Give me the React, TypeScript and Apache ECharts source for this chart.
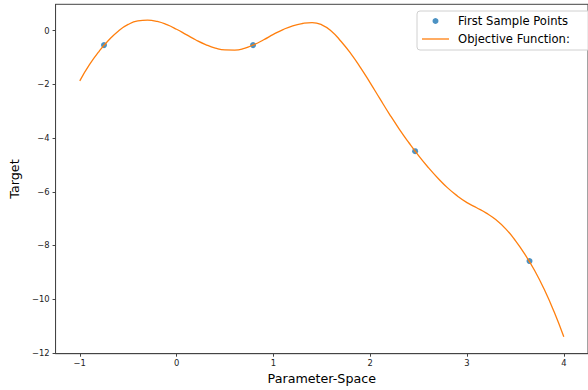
import React, { useEffect, useRef } from "react";
import * as echarts from "echarts";

const curveX = [-1.0, -0.9, -0.8, -0.7, -0.6, -0.5, -0.4, -0.3, -0.2, -0.1, 0.0, 0.1, 0.2, 0.3, 0.4, 0.5, 0.6, 0.7, 0.8, 0.9, 1.0, 1.1, 1.2, 1.3, 1.4, 1.5, 1.6, 1.7, 1.8, 1.9, 2.0, 2.1, 2.2, 2.3, 2.4, 2.5, 2.6, 2.7, 2.8, 2.9, 3.0, 3.1, 3.2, 3.3, 3.4, 3.5, 3.6, 3.7, 3.8, 3.9, 4.0];
const curveY = [-1.87, -1.27, -0.77, -0.35, -0.01, 0.23, 0.36, 0.39, 0.34, 0.22, 0.05, -0.15, -0.35, -0.52, -0.65, -0.72, -0.725, -0.66, -0.52, -0.34, -0.14, 0.04, 0.18, 0.265, 0.3, 0.215, -0.02, -0.405, -0.855, -1.375, -1.945, -2.535, -3.115, -3.665, -4.175, -4.655, -5.095, -5.495, -5.855, -6.155, -6.405, -6.595, -6.795, -7.045, -7.38, -7.82, -8.34, -8.94, -9.65, -10.47, -11.4];

const sampleX = [-0.75, 0.79, 2.464, 3.646];
const sampleY = [-0.54, -0.54, -4.49, -8.58];

const xTicks = [-1, 0, 1, 2, 3, 4];
const yTicks = [-12, -10, -8, -6, -4, -2, 0];

const FONT = "DejaVu Sans";
const minus = (v: number) => String(v).replace("-", "\u2212");

export default function App() {
  const ref = useRef<HTMLDivElement>(null);
  useEffect(() => {
    if (!ref.current) return;
    const chart = echarts.init(ref.current, null, { renderer: "svg" });
    chart.setOption({
      animation: false,
      backgroundColor: "#ffffff",
      grid: {
        left: 53.3,
        top: 4.3,
        width: 540,
        height: 349.4,
        show: true,
        borderColor: "#444",
        borderWidth: 1,
        backgroundColor: "transparent",
      },
      legend: {
        orient: "vertical",
        left: 417,
        top: 11,
        padding: [3, 24, 4, 5],
        itemGap: 4,
        itemWidth: 27,
        itemHeight: 6,
        borderColor: "#d0d0d0",
        borderWidth: 1,
        borderRadius: 3,
        backgroundColor: "rgba(255,255,255,0.8)",
        textStyle: {
          fontFamily: FONT,
          fontSize: 11.6,
          color: "#000",
          lineHeight: 14,
          padding: [0, 0, 0, 4],
        },
        data: [
          { name: "First Sample Points", icon: "circle" },
          { name: "Objective Function:", icon: "path://M0,0H27V1.3H0Z" },
        ],
      },
      xAxis: {
        type: "value",
        min: -1.25,
        max: 4.25,
        name: "Parameter-Space",
        nameLocation: "middle",
        nameGap: 17,
        nameTextStyle: { fontFamily: FONT, fontSize: 12.7, color: "#000" },
        axisLine: { show: true, onZero: false, lineStyle: { color: "#444", width: 1 } },
        axisTick: { show: true, length: 3, customValues: xTicks, lineStyle: { color: "#444" } },
        axisLabel: {
          customValues: xTicks,
          margin: 5,
          fontFamily: FONT,
          fontSize: 8.4,
          color: "#222",
          formatter: (v: number) => minus(v),
        },
        splitLine: { show: false },
      },
      yAxis: {
        type: "value",
        min: -12.03,
        max: 0.98,
        name: "Target",
        nameLocation: "middle",
        nameRotate: 90,
        nameGap: 25,
        nameTextStyle: { fontFamily: FONT, fontSize: 12.7, color: "#000" },
        axisLine: { show: true, onZero: false, lineStyle: { color: "#444", width: 1 } },
        axisTick: { show: true, length: 3, customValues: yTicks, lineStyle: { color: "#444" } },
        axisLabel: {
          customValues: yTicks,
          margin: 6,
          fontFamily: FONT,
          fontSize: 8.4,
          color: "#222",
          formatter: (v: number) => minus(v),
        },
        splitLine: { show: false },
      },
      series: [
        {
          name: "First Sample Points",
          type: "scatter",
          symbol: "circle",
          symbolSize: 6,
          itemStyle: { color: "#1f77b4" },
          data: sampleX.map((x, i) => [x, sampleY[i]]),
          z: 2,
        },
        {
          name: "Objective Function:",
          type: "line",
          smooth: 0.5,
          symbol: "none",
          showSymbol: false,
          lineStyle: { color: "#ff7f0e", width: 1.3 },
          itemStyle: { color: "#ff7f0e" },
          data: curveX.map((x, i) => [x, curveY[i]]),
          z: 3,
        },
      ],
    });
    return () => chart.dispose();
  }, []);
  return (
    <div
      ref={ref}
      style={{ position: "fixed", left: 0, top: 0, width: 588, height: 390 }}
    />
  );
}
